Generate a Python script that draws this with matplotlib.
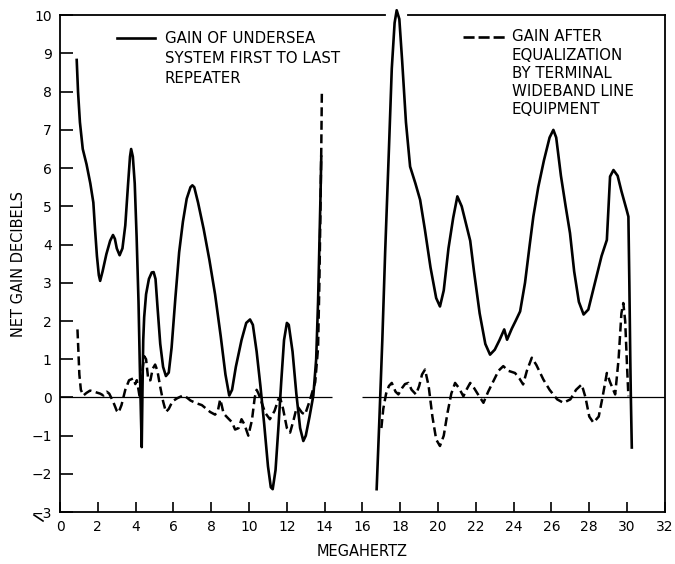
import matplotlib.pyplot as plt
from matplotlib.lines import Line2D
import numpy as np

plt.rcParams['font.family'] = ['DejaVu Sans']
plt.rcParams['xtick.direction'] = 'in'
plt.rcParams['ytick.direction'] = 'in'
plt.rcParams['xtick.major.size'] = 7
plt.rcParams['ytick.major.size'] = 9
plt.rcParams['xtick.major.width'] = 1.2
plt.rcParams['ytick.major.width'] = 1.2

# gain of undersea system, first to last repeater (two bands)
low_f = [0.88, 0.95, 1.05, 1.2, 1.4, 1.6, 1.76, 1.85, 1.95, 2.05, 2.12, 2.25, 2.45, 2.65, 2.8, 2.9,
         3.0, 3.15, 3.3, 3.45, 3.6, 3.7, 3.76, 3.85, 3.95, 4.05, 4.15, 4.22, 4.28, 4.32, 4.36, 4.4,
         4.45, 4.55, 4.7, 4.85, 4.95, 5.05, 5.15, 5.3, 5.45, 5.6, 5.75, 5.9, 6.1, 6.3, 6.5, 6.7,
         6.9, 7.0, 7.1, 7.3, 7.6, 7.9, 8.2, 8.5, 8.75, 8.95, 9.1, 9.3, 9.6, 9.85, 10.05, 10.2,
         10.4, 10.6, 10.8, 11.0, 11.15, 11.25, 11.4, 11.55, 11.7, 11.85, 12.0, 12.1, 12.3, 12.5,
         12.7, 12.87, 13.0, 13.2, 13.4, 13.55, 13.65, 13.72, 13.78, 13.82]
low_gain = [8.83, 8.0, 7.2, 6.5, 6.1, 5.6, 5.1, 4.4, 3.7, 3.2, 3.05, 3.3, 3.75, 4.1, 4.25, 4.15,
            3.9, 3.72, 3.9, 4.5, 5.6, 6.3, 6.5, 6.3, 5.6, 4.2, 2.5, 0.8, -0.5, -1.3, 0.2, 1.5,
            2.1, 2.7, 3.1, 3.27, 3.28, 3.1, 2.4, 1.4, 0.8, 0.56, 0.65, 1.3, 2.6, 3.8, 4.6, 5.2,
            5.5, 5.55, 5.5, 5.1, 4.4, 3.6, 2.7, 1.6, 0.6, 0.05, 0.2, 0.8, 1.5, 1.95, 2.04, 1.9,
            1.2, 0.3, -0.7, -1.8, -2.35, -2.4, -1.9, -0.8, 0.4, 1.5, 1.95, 1.9, 1.2, 0.1,
            -0.8, -1.14, -1.0, -0.5, 0.05, 1.0, 2.5, 4.0, 5.3, 6.3]

high_f = [16.75, 16.9, 17.05, 17.2, 17.4, 17.55, 17.7, 17.81, 17.95, 18.1, 18.3, 18.52, 18.8,
          19.05, 19.3, 19.6, 19.9, 20.1, 20.3, 20.55, 20.8, 21.02, 21.25, 21.5, 21.7, 21.9, 22.2,
          22.5, 22.75, 23.0, 23.25, 23.5, 23.65, 23.9, 24.1, 24.34, 24.6, 24.85, 25.04, 25.3,
          25.6, 25.9, 26.1, 26.25, 26.5, 26.75, 26.98, 27.2, 27.45, 27.7, 27.95, 28.3, 28.65,
          28.93, 29.0, 29.1, 29.28, 29.5, 29.7, 29.98, 30.07, 30.12, 30.17, 30.2, 30.25]
high_gain = [-2.4, -0.5, 1.5, 3.8, 6.5, 8.6, 9.8, 10.13, 9.9, 8.8, 7.2, 6.04, 5.6,
             5.17, 4.4, 3.4, 2.6, 2.38, 2.8, 3.9, 4.7, 5.26, 5.0, 4.5, 4.1, 3.3, 2.2,
             1.4, 1.12, 1.25, 1.5, 1.78, 1.51, 1.8, 2.0, 2.25, 3.0, 4.0, 4.73, 5.5,
             6.2, 6.8, 7.0, 6.8, 5.8, 5.0, 4.3, 3.3, 2.5, 2.17, 2.3, 3.0, 3.7,
             4.12, 4.8, 5.78, 5.95, 5.8, 5.4, 4.9, 4.73, 3.0, 1.0, 0.0, -1.31]

# gain after equalization by terminal wideband line equipment
low_eq_f = [0.92, 0.97, 1.02, 1.1, 1.23, 1.4, 1.59, 1.8, 2.12, 2.3, 2.47, 2.6, 2.8, 3.0, 3.09,
            3.25, 3.45, 3.65, 3.88, 3.98, 4.06, 4.15, 4.23, 4.3, 4.38, 4.45, 4.55, 4.67, 4.78,
            4.9, 5.03, 5.15, 5.29, 5.45, 5.6, 5.75, 5.95, 6.2, 6.5, 6.7, 6.9, 7.2, 7.5, 7.94,
            8.2, 8.35, 8.47, 8.55, 8.65, 8.9, 9.1, 9.26, 9.45, 9.6, 9.75, 9.96, 10.15, 10.3,
            10.4, 10.5, 10.67, 10.85, 11.1, 11.35, 11.55, 11.64, 11.8, 12.0, 12.17, 12.35, 12.5,
            12.6, 12.8, 12.96, 13.2, 13.5, 13.65, 13.72, 13.78, 13.82, 13.85]
low_eq_gain = [1.78, 1.2, 0.6, 0.2, 0.05, 0.12, 0.18, 0.15, 0.1, 0.05, 0.15, 0.1, -0.1, -0.35, -0.4,
               -0.2, 0.2, 0.45, 0.5, 0.35, 0.45, 0.2, -0.05, 0.3, 0.8, 1.08, 1.0, 0.45, 0.45,
               0.75, 0.86, 0.7, 0.3, -0.1, -0.38, -0.3, -0.1, -0.02, 0.05, 0.0, -0.08, -0.15, -0.2, -0.38,
               -0.45, -0.35, -0.05, -0.2, -0.42, -0.55, -0.65, -0.84, -0.8, -0.57, -0.7, -1.0, -0.6, 0.0,
               0.2, 0.1, -0.14, -0.4, -0.57, -0.35, -0.05, 0.0, -0.3, -0.8, -0.92, -0.6, -0.3,
               -0.26, -0.4, -0.45, -0.1, 0.4, 1.3, 3.0, 5.0, 6.5, 7.95]

high_eq_f = [17.0, 17.1, 17.25, 17.4, 17.55, 17.75, 17.9, 18.1, 18.25, 18.43, 18.6, 18.83, 19.0,
             19.15, 19.31, 19.5, 19.7, 19.9, 20.1, 20.3, 20.5, 20.7, 20.9, 21.1, 21.34, 21.5,
             21.7, 21.9, 22.15, 22.4, 22.65, 22.95, 23.2, 23.45, 23.7, 24.07, 24.3, 24.5, 24.7,
             24.96, 25.2, 25.57, 25.9, 26.3, 26.63, 27.0, 27.3, 27.6, 27.8, 28.0, 28.22, 28.5,
             28.7, 28.93, 29.1, 29.37, 29.55, 29.7, 29.8, 29.9, 30.0, 30.07]
high_eq_gain = [-0.8, -0.3, 0.1, 0.3, 0.38, 0.15, 0.08, 0.25, 0.35, 0.38, 0.2, 0.08, 0.3,
                0.6, 0.73, 0.3, -0.5, -1.1, -1.27, -1.0, -0.4, 0.1, 0.38, 0.25, 0.03, 0.2,
                0.38, 0.25, 0.05, -0.14, 0.15, 0.45, 0.7, 0.82, 0.7, 0.64, 0.5, 0.34, 0.7,
                1.04, 0.85, 0.47, 0.2, -0.05, -0.14, -0.05, 0.2, 0.34, 0.0, -0.5, -0.66, -0.5,
                0.0, 0.64, 0.4, 0.08, 1.0, 2.2, 2.47, 2.0, 0.8, 0.03]

x_ticks = np.arange(0, 33, 2)
y_ticks = np.arange(-3, 11, 1)

fig = plt.figure(figsize=(6.75, 5.64), dpi=100)
ax = fig.add_axes([0.089, 0.092, 0.896, 0.881])

ax.hlines([0, 0], [0, 16], [14.4, 32], color='black', lw=0.9)

ax.plot(low_f, low_gain, color='black', lw=1.9, solid_joinstyle='round')
ax.plot(high_f, high_gain, color='black', lw=1.9, solid_joinstyle='round', clip_on=False)
ax.plot(low_eq_f, low_eq_gain, color='black', lw=1.8, ls=(0, (3.6, 1.8)))
ax.plot(high_eq_f, high_eq_gain, color='black', lw=1.8, ls=(0, (3.6, 1.8)))

ax.set_xlim(0, 32)
ax.set_ylim(-3, 10)
ax.set_xticks(x_ticks)
ax.set_yticks(y_ticks)
ax.set_yticklabels([str(v).replace('-', '\u2212') for v in y_ticks])
ax.tick_params(axis='both', which='major', labelsize=10, pad=6, color='black')

for s in ['left', 'bottom', 'right']:
    ax.spines[s].set_linewidth(1.3)
# top border has a gap where the curve pokes through
ax.spines['top'].set_visible(False)
ax.plot([0, 17.2], [1, 1], transform=ax.get_xaxis_transform(), color='black', lw=1.3, clip_on=False)
ax.plot([18.4, 32], [1, 1], transform=ax.get_xaxis_transform(), color='black', lw=1.3, clip_on=False)

ax.set_xlabel('MEGAHERTZ', fontsize=10.5, labelpad=7)
ax.set_ylabel('NET GAIN DECIBELS', fontsize=10.5, labelpad=4)

# legend drawn inside the plot
ax.plot([3.0, 5.0], [9.40, 9.40], color='black', lw=1.9)
ax.text(5.55, 9.6, 'GAIN OF UNDERSEA\nSYSTEM FIRST TO LAST\nREPEATER', fontsize=10.8,
        va='top', ha='left', linespacing=1.45)
ax.plot([21.3, 23.6], [9.43, 9.43], color='black', lw=1.9, ls=(0, (4.2, 1.5)))
ax.text(23.9, 9.63, 'GAIN AFTER\nEQUALIZATION\nBY TERMINAL\nWIDEBAND LINE\nEQUIPMENT', fontsize=10.8,
        va='top', ha='left', linespacing=1.27)

# axis break mark near origin
fig.add_artist(Line2D([34 / 675, 43 / 675], [1 - 515 / 564, 1 - 521 / 564], color='black', lw=1.2))

fig.savefig('out.png', dpi=100)
plt.close()
